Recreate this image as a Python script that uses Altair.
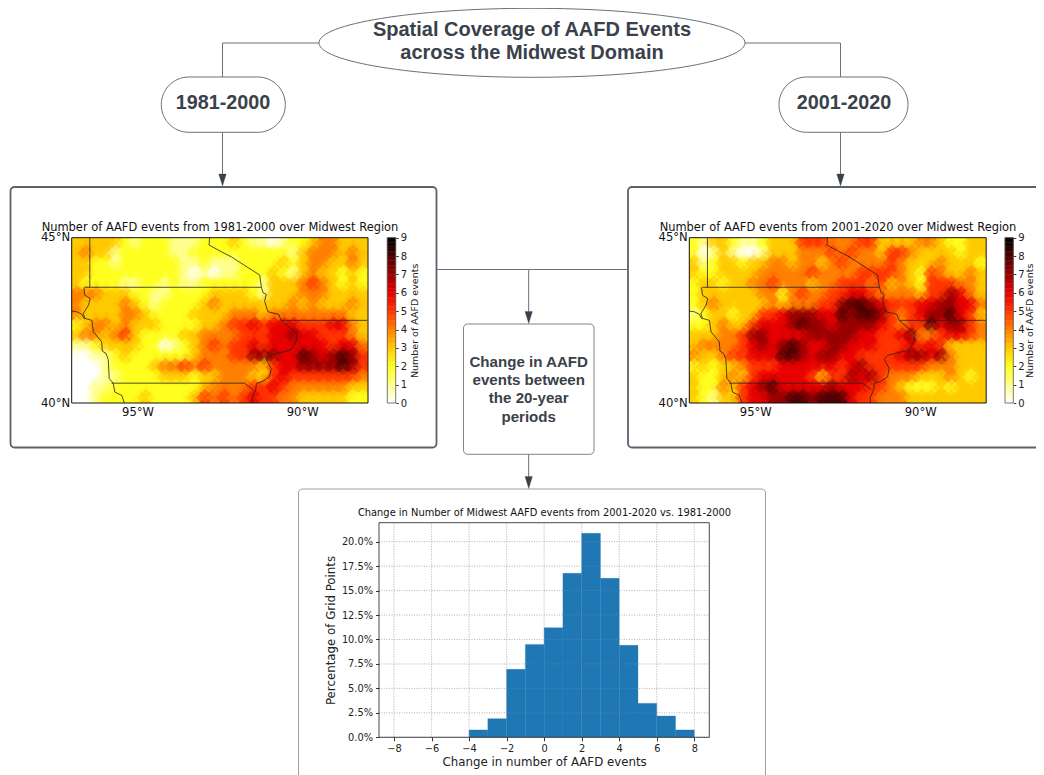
import altair as alt
import pandas as pd

# ---------- values ----------
MAP_1981 = [
 [3,3,3,3,3,2,1,2,2,2,1,1,1,2,2, 2,3,2,1,1,0,1,2,2,3,4,4,3,3,3],
 [3,4,3,3,1,2,2,2,2,2,1,1,2,2,2, 2,2,2,2,2,2,2,1,3,4,4,4,3,4,3],
 [3,3,2,2,1,2,2,2,2,2,2,1,1,2,1, 1,1,2,2,2,2,3,2,3,4,4,3,3,4,3],
 [3,3,2,2,2,2,2,2,2,2,2,1,0,1,0, 1,1,2,2,2,3,2,1,3,4,3,3,2,3,2],
 [3,2,2,2,2,1,1,2,2,1,2,1,1,2,2, 2,2,2,2,1,3,3,3,4,5,4,3,2,3,2],
 [4,4,4,3,3,3,2,2,1,1,2,2,2,2,3, 3,3,3,2,1,3,3,3,4,4,4,3,3,3,3],
 [4,3,3,3,3,4,3,2,1,2,2,2,2,3,4, 3,3,3,3,3,3,3,4,3,4,3,3,3,4,3],
 [4,3,3,3,3,4,4,3,2,2,2,2,3,3,3, 3,4,4,4,3,4,4,4,4,4,4,4,4,3,3],
 [2,3,4,4,3,4,3,3,3,2,2,2,2,3,3, 4,5,5,6,5,6,6,6,5,5,5,6,6,4,3],
 [3,4,4,3,4,5,3,2,2,2,2,3,3,4,4, 4,4,5,5,5,6,6,7,6,6,5,5,5,4,3],
 [1,1,2,3,3,3,3,2,2,0,1,2,3,4,5, 4,5,5,6,5,6,6,6,6,6,6,5,6,6,4],
 [0,0,1,1,2,3,2,2,2,2,2,2,3,4,4, 4,5,5,7,7,7,6,6,8,7,6,7,8,7,5],
 [0,0,0,1,2,2,2,2,3,4,4,5,4,5,4, 4,4,4,4,3,5,6,6,7,7,7,7,8,7,5],
 [0,0,0,1,1,2,2,2,2,3,3,3,2,3,3, 4,4,4,3,3,5,6,5,5,5,5,5,5,5,4],
 [0,0,1,1,2,2,2,2,2,2,2,2,2,3,4, 4,4,4,5,5,6,5,4,4,4,4,4,4,3,3],
 [0,0,1,2,2,2,2,3,2,2,2,2,3,5,4, 5,4,5,6,5,5,4,4,3,3,3,3,3,2,2],
]
MAP_2001 = [
 [2,1,3,3,2,1,1,2,3,3,3,5,5,5,4,4, 4,5,5,3,3,3,3,4,4,3,2,2,3,3],
 [2,0,1,3,1,0,0,1,3,3,3,4,4,4,5,4, 5,4,4,3,5,5,4,3,3,3,3,2,3,3],
 [3,1,2,3,3,2,3,3,4,4,3,4,4,3,4,5, 4,4,4,4,5,4,3,3,3,4,3,3,3,2],
 [3,2,2,3,3,3,3,4,4,4,4,4,5,4,4,4, 4,5,5,5,5,4,3,2,5,4,3,3,4,3],
 [2,3,3,2,3,3,4,4,5,4,4,4,3,4,4,5, 5,5,4,5,3,4,3,2,5,5,5,4,4,3],
 [2,3,3,3,3,3,3,4,4,2,4,5,4,4,5,5, 6,6,5,4,4,4,4,3,5,5,7,6,4,3],
 [2,3,4,3,3,3,3,3,4,3,4,4,4,5,5,7, 8,8,7,6,5,5,5,6,6,7,7,6,6,4],
 [1,2,3,3,2,3,3,5,5,6,7,7,7,6,6,8, 7,8,8,7,5,4,5,6,7,7,8,6,5,3],
 [2,2,3,4,3,3,5,6,6,6,7,8,7,7,6,7, 7,7,7,6,5,4,5,5,8,6,7,7,5,4],
 [3,3,3,4,4,5,7,7,6,6,6,6,7,7,7,7, 7,6,6,5,5,6,7,4,4,5,6,6,5,4],
 [3,4,4,4,4,5,6,7,6,7,8,7,6,6,7,7, 6,6,6,5,5,5,6,5,6,5,3,3,3,3],
 [4,3,3,4,5,5,6,6,6,8,8,7,6,7,7,6, 6,5,5,5,5,6,7,7,6,7,4,3,3,3],
 [2,3,2,3,3,4,5,5,5,6,6,6,6,6,6,5, 6,7,5,5,5,5,5,5,4,4,4,3,3,3],
 [3,2,2,3,4,3,5,6,6,6,6,6,5,3,5,5, 7,6,7,5,4,4,4,3,3,3,4,3,2,3],
 [3,2,2,4,3,5,6,7,8,6,6,6,6,6,7,6, 6,6,5,5,4,3,2,2,2,3,2,3,3,3],
 [3,2,1,3,3,5,6,6,7,7,8,8,7,8,8,8, 6,5,5,4,4,4,3,3,3,3,3,3,3,3],
]
HOT_R = ["#ffffff","#ffff8f","#ffff20","#ffca00","#ff8000","#ff3500","#e80000","#990000","#4d0000","#000000"]
LEVELS = list(range(10))

BORDERS = {
 "mn_west": ([-96.45,-96.45],[45,43.5]),
 "ia_north": ([-96.6,-91.24],[43.5,43.5]),
 "missouri": ([-96.63,-96.6,-96.44,-96.49,-96.65,-96.6,-96.39,-96.34,-96.09,-96.07,-95.96,-95.89,-95.86,-95.74,-95.69,-95.48,-95.4],
              [43.5,43.26,43.16,42.96,42.71,42.56,42.5,42.15,41.85,41.57,41.5,41.32,40.74,40.6,40.33,40.23,40.0]),
 "ne_sd": ([-97,-96.85,-96.7,-96.63,-96.6],[42.78,42.76,42.69,42.56,42.54]),
 "ia_south": ([-95.79,-91.75,-91.5],[40.6,40.6,40.41]),
 "mississippi": ([-91.24,-91.19,-91.09,-91.14,-91.04,-90.71,-90.64,-90.16,-90.18,-90.35,-90.99,-91.09,-90.94,-90.99,-91.19,-91.39,-91.41,-91.52,-91.5],
                 [43.52,43.34,43.28,43.08,42.76,42.68,42.5,42.1,41.87,41.6,41.44,41.32,41.04,40.79,40.66,40.59,40.41,40.15,40.0]),
 "st_croix": ([-92.81,-92.83,-92.5,-92.15,-91.29,-91.24],[45,44.78,44.6,44.42,43.87,43.52]),
 "wi_il": ([-90.64,-88.02],[42.5,42.5]),
}

HIST_LEFT = [-4,-3,-2,-1,0,1,2,3,4,5,6,7]
HIST_PCT = [0.75,1.9,6.95,9.5,11.2,16.77,20.85,16.25,9.4,3.47,2.18,0.75]
HIST_XTICKS = [-8,-6,-4,-2,0,2,4,6,8]
HIST_YTICKS = [0,2.5,5,7.5,10,12.5,15,17.5,20]

MAP_LON = [-97,-88]
MAP_LAT = [40,45]

# ---------- diagram layout, in picture pixels ----------
W, H = 1028, 767
INK = "#3a414a"
BOXES = [
 (10.5,436.5,187,447.5,4,"#5a616b",1.8),
 (628,1070,187,447.5,4,"#5a616b",1.8),
 (463.5,594,324,454.3,4,"#7d838b",1),
 (298.5,765.5,489,820,4,"#9a9ea5",1),
 (161.3,285.3,77,132.3,27.5,"#6b7079",1),
 (779,908,77,132.3,27.5,"#6b7079",1),
]
CONNECTORS = [
 ([319,222.5,222.5],[43,43,77]),
 ([222.5,222.5],[132,176]),
 ([745,840.5,840.5],[43,43,77]),
 ([840.5,840.5],[132,176]),
 ([437,528.7,528.7],[269.5,269.5,313]),
 ([628,528.7],[269.5,269.5]),
 ([528.7,528.7],[454.3,478]),
]
ARROW_TIPS = ([222.5,840.5,528.7,528.7],[186,186,323.5,488.5])
LABELS = [
 ("Spatial Coverage of AAFD Events",532,29.5,20),
 ("across the Midwest Domain",532,53,20),
 ("1981-2000",223,103,19.8),
 ("2001-2020",844,103,19.8),
 ("Change in AAFD",528.7,361.7,15.1),
 ("events between",528.7,380,15.1),
 ("the 20-year",528.7,398.3,15.1),
 ("periods",528.7,416.7,15.1),
]
CAPTIONS = [
 ("Number of AAFD events from 1981-2000 over Midwest Region",220,228,11.45),
 ("Number of AAFD events from 2001-2020 over Midwest Region",838,228,11.45),
 ("Change in Number of Midwest AAFD events from 2001-2020 vs. 1981-2000",544.5,513,9.9),
]

SX = alt.Scale(domain=[8,8+W],range=[0,W],nice=False,zero=False)
SY = alt.Scale(domain=[8,8+H],range=[0,H],nice=False,zero=False)
layers = []

def px(field):
    return alt.X(field,type="quantitative",scale=SX,axis=None)
def py(field):
    return alt.Y(field,type="quantitative",scale=SY,axis=None)

# boxes
for i,(x0,x1,y0,y1,r,c,sw) in enumerate(BOXES):
    d = pd.DataFrame({"x0":[x0],"x1":[x1],"y0":[y0],"y1":[y1]})
    layers.append(alt.Chart(d).mark_rect(fill="white",fillOpacity=0,stroke=c,strokeWidth=sw,cornerRadius=r).encode(
        x=px("x0"),x2=alt.X2("x1"),y=py("y0"),y2=alt.Y2("y1")))

# ellipse
layers.append(alt.Chart(pd.DataFrame({"x":[532],"y":[42.8]})).mark_point(
    shape="M-1 0A1 0.162 0 1 1 1 0A1 0.162 0 1 1 -1 0Z",filled=False,stroke="#6b7079",strokeWidth=1,opacity=1,size=426**2
).encode(x=px("x"),y=py("y")))

# connectors
rows=[]
for k,(xs,ys) in enumerate(CONNECTORS):
    for j,(a,b) in enumerate(zip(xs,ys)):
        rows.append({"id":k,"i":j,"x":a,"y":b})
layers.append(alt.Chart(pd.DataFrame(rows)).mark_line(color="#6b7079",strokeWidth=1,strokeJoin="round").encode(
    x=px("x"),y=py("y"),detail="id:N",order="i:Q"))
layers.append(alt.Chart(pd.DataFrame({"x":ARROW_TIPS[0],"y":ARROW_TIPS[1]})).mark_point(
    shape="M-0.62 -2 L0.62 -2 L0 0 Z",filled=True,fill=INK,stroke=INK,strokeWidth=0.3,opacity=1,size=144
).encode(x=px("x"),y=py("y")))

# flowchart text
layers.append(alt.Chart(pd.DataFrame(LABELS,columns=["t","x","y","s"])).mark_text(
    font="Liberation Sans",fontWeight="bold",color=INK,align="center",baseline="middle"
).encode(x=px("x"),y=py("y"),text="t:N",size=alt.Size("s:Q",scale=None,legend=None)))

# heat colour
HEAT = alt.Scale(type="linear",domain=LEVELS,range=HOT_R,interpolate="rgb",clamp=True)

def add_map(grid,left,right,top,bottom,cb0,cb1,cb_pad):
    sx = alt.Scale(domain=MAP_LON,range=[left-8,right-8],nice=False,zero=False)
    sy = alt.Scale(domain=MAP_LAT,range=[bottom-8,top-8],nice=False,zero=False)
    nr,nc = len(grid),len(grid[0])
    dlon = (MAP_LON[1]-MAP_LON[0])/nc; dlat=(MAP_LAT[1]-MAP_LAT[0])/nr
    cells=[{"lon0":MAP_LON[0]+c*dlon,"lon1":MAP_LON[0]+(c+1)*dlon,
            "lat1":MAP_LAT[1]-r*dlat,"lat0":MAP_LAT[1]-(r+1)*dlat,
            "lon":MAP_LON[0]+(c+.5)*dlon,"lat":MAP_LAT[1]-(r+.5)*dlat,"v":grid[r][c]}
           for r in range(nr) for c in range(nc)]
    cdf=pd.DataFrame(cells)
    layers.append(alt.Chart(cdf).mark_rect(strokeWidth=0.5).encode(
        x=alt.X("lon0:Q",scale=sx,axis=None),x2="lon1:Q",
        y=alt.Y("lat0:Q",scale=sy,axis=None),y2="lat1:Q",
        fill=alt.Fill("v:Q",scale=HEAT,legend=None),
        stroke=alt.Stroke("v:Q",scale=HEAT,legend=None)))
    # the same values drawn again as soft diamonds: gives the faceted contour look
    for op,sz in ((0.35,900),(0.5,324)):
        layers.append(alt.Chart(cdf).mark_point(shape="diamond",filled=True,opacity=op,size=sz,strokeWidth=0).encode(
            x=alt.X("lon:Q",scale=sx,axis=None),y=alt.Y("lat:Q",scale=sy,axis=None),
            fill=alt.Fill("v:Q",scale=HEAT,legend=None)))
    # white masks for the diamonds' overhang
    m=pd.DataFrame([
      {"x0":left-12,"x1":left,"y0":top-12,"y1":bottom+12},
      {"x0":right,"x1":right+12,"y0":top-12,"y1":bottom+12},
      {"x0":left-12,"x1":right+12,"y0":top-12,"y1":top},
      {"x0":left-12,"x1":right+12,"y0":bottom,"y1":bottom+12}])
    layers.append(alt.Chart(m).mark_rect(fill="white",stroke="white",strokeWidth=0).encode(
        x=px("x0"),x2="x1:Q",y=py("y0"),y2="y1:Q"))
    rows=[]
    for name,(lo,la) in BORDERS.items():
        for j,(a,b) in enumerate(zip(lo,la)):
            rows.append({"id":name,"i":j,"lon":a,"lat":b})
    layers.append(alt.Chart(pd.DataFrame(rows)).mark_line(color="#222222",strokeWidth=0.8).encode(
        x=alt.X("lon:Q",scale=sx,axis=None),y=alt.Y("lat:Q",scale=sy,axis=None),detail="id:N",order="i:Q"))
    fr=pd.DataFrame({"a":[MAP_LON[0]],"b":[MAP_LON[1]],"c":[MAP_LAT[0]],"d":[MAP_LAT[1]]})
    layers.append(alt.Chart(fr).mark_rect(fillOpacity=0,fill="white",stroke="#111111",strokeWidth=1).encode(
        x=alt.X("a:Q",scale=sx,axis=alt.Axis(orient="bottom",offset=bottom-8-H,values=[-95,-90],
            labelExpr="abs(datum.value)+'°W'",ticks=False,domain=False,grid=False,title=None,labelFont="DejaVu Sans",
            labelFontSize=11.6,labelPadding=3,labelColor="#111111",labelOverlap=False,zindex=1)),
        x2="b:Q",
        y=alt.Y("c:Q",scale=sy,axis=alt.Axis(orient="left",offset=-(left-8),values=MAP_LAT,
            labelExpr="datum.value+'°N'",ticks=False,domain=False,grid=False,title=None,labelFont="DejaVu Sans",
            labelFontSize=11.6,labelPadding=2,labelColor="#111111",labelOverlap=False,zindex=1)),
        y2="d:Q"))
    # colour bar
    ramp=[{"x0":0,"x1":1,"y0":i/4,"y1":(i+1)/4,"v":(i+0.5)/4} for i in range(36)]
    scx=alt.Scale(domain=[0,1],range=[cb0-8,cb1-8],nice=False,zero=False)
    scy=alt.Scale(domain=[0,9],range=[bottom-8,top-8],nice=False,zero=False)
    layers.append(alt.Chart(pd.DataFrame(ramp)).mark_rect(strokeWidth=0.4).encode(
        x=alt.X("x0:Q",scale=scx,axis=None),x2="x1:Q",
        y=alt.Y("y0:Q",scale=scy,axis=None),y2="y1:Q",
        fill=alt.Fill("v:Q",scale=HEAT,legend=None),
        stroke=alt.Stroke("v:Q",scale=HEAT,legend=None)))
    fr2=pd.DataFrame({"a":[0],"b":[1],"c":[0],"d":[9]})
    layers.append(alt.Chart(fr2).mark_rect(fillOpacity=0,fill="white",stroke="#555555",strokeWidth=0.8).encode(
        x=alt.X("a:Q",scale=scx,axis=None),x2="b:Q",
        y=alt.Y("c:Q",scale=scy,axis=alt.Axis(orient="right",offset=cb1-8-W,values=LEVELS,format="d",
            ticks=True,tickSize=2.5,tickColor="#333333",domain=False,grid=False,title="Number of AAFD events",
            titleAngle=270,titleBaseline="top",titleFont="DejaVu Sans",titleFontSize=9.5,titleFontWeight="normal",titleColor="#222222",titlePadding=cb_pad,
            labelFont="DejaVu Sans",labelFontSize=10,labelPadding=2,labelColor="#222222",labelOverlap=False,zindex=1)),
        y2="d:Q"))

add_map(MAP_1981,71.7,368,237.7,403,387.3,395.7,3)
add_map(MAP_2001,689.3,986.2,237.7,403,1005,1013.3,0)

layers.append(alt.Chart(pd.DataFrame(CAPTIONS,columns=["t","x","y","s"])).mark_text(
    font="DejaVu Sans",color="#111111",align="center",baseline="middle"
).encode(x=px("x"),y=py("y"),text="t:N",size=alt.Size("s:Q",scale=None,legend=None)))

# histogram
HX = alt.Scale(domain=[-8.8,8.8],range=[379-8,709.3-8],nice=False,zero=False)
HY = alt.Scale(domain=[0,21.94],range=[737.3-8,522.7-8],nice=False,zero=False)
gx=pd.DataFrame({"x":HIST_XTICKS})
gy=pd.DataFrame({"y":[v for v in HIST_YTICKS]})
def grids(op):
    a=alt.Chart(gx).mark_rule(color="#b0b0b0",strokeWidth=0.8,strokeDash=[1,1.5],opacity=op).transform_calculate(y0="0",y1="21.94").encode(
        x=alt.X("x:Q",scale=HX,axis=None),y=alt.Y("y0:Q",scale=HY,axis=None),y2="y1:Q")
    b=alt.Chart(gy).mark_rule(color="#b0b0b0",strokeWidth=0.8,strokeDash=[1,1.5],opacity=op).transform_calculate(x0="-8.8",x1="8.8").encode(
        y=alt.Y("y:Q",scale=HY,axis=None),x=alt.X("x0:Q",scale=HX,axis=None),x2="x1:Q")
    return [a,b]
layers += grids(1)
bars=pd.DataFrame({"l":HIST_LEFT,"r":[v+1 for v in HIST_LEFT],"p":HIST_PCT,"z":[0]*len(HIST_PCT)})
layers.append(alt.Chart(bars).mark_rect(fill="#1f77b4",stroke="#1f77b4",strokeWidth=0.3).encode(
    x=alt.X("l:Q",scale=HX,axis=None),x2="r:Q",y=alt.Y("z:Q",scale=HY,axis=None),y2="p:Q"))
layers += grids(0.35)
hfr=pd.DataFrame({"a":[-8.8],"b":[8.8],"c":[0],"d":[21.94]})
layers.append(alt.Chart(hfr).mark_rect(fillOpacity=0,fill="white",stroke="#333333",strokeWidth=0.9).encode(
    x=alt.X("a:Q",scale=HX,axis=alt.Axis(orient="bottom",offset=737.3-8-H,values=HIST_XTICKS,
        labelExpr="replace(format(datum.value,'d'),'-','−')",ticks=True,tickSize=3.5,tickColor="#333333",domain=False,grid=False,
        title="Change in number of AAFD events",titleFont="DejaVu Sans",titleFontSize=11.8,titleFontWeight="normal",titleColor="#222222",titlePadding=3,
        labelFont="DejaVu Sans",labelFontSize=9.8,labelPadding=3,labelColor="#222222",labelOverlap=False,zindex=1)),
    x2="b:Q",
    y=alt.Y("c:Q",scale=HY,axis=alt.Axis(orient="left",offset=-(379-8),values=HIST_YTICKS,
        labelExpr="format(datum.value,'.1f')+'%'",ticks=True,tickSize=3.5,tickColor="#333333",domain=False,grid=False,
        title="Percentage of Grid Points",titleFont="DejaVu Sans",titleFontSize=11.8,titleFontWeight="normal",titleColor="#222222",titlePadding=5,
        labelFont="DejaVu Sans",labelFontSize=9.8,labelPadding=3,labelColor="#222222",labelOverlap=False,zindex=1)),
    y2="d:Q"))

chart = alt.layer(*layers).resolve_scale(x="independent",y="independent").properties(
    width=W,height=H,padding=0,autosize=alt.AutoSizeParams(type="none")
).configure_view(stroke=None)
chart.save("out.html", embed_options={"renderer": "svg", "actions": False})
